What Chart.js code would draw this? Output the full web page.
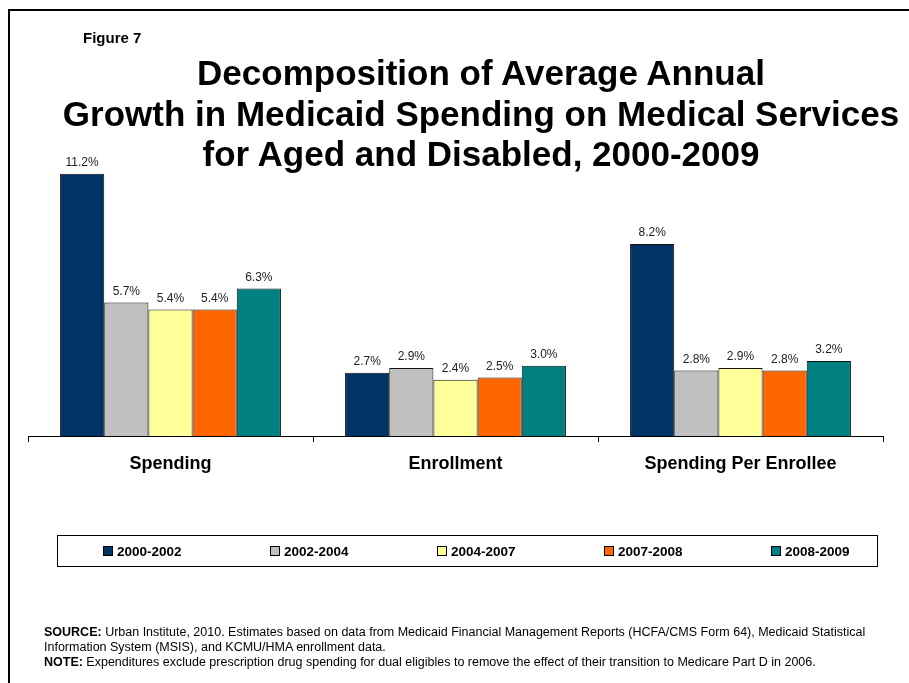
<!DOCTYPE html>
<html>
<head>
<meta charset="utf-8">
<script src="https://cdn.jsdelivr.net/npm/chart.js@4.4.1/dist/chart.umd.min.js"></script>
<style>
  html, body { margin: 0; padding: 0; background: #fff; }
  body { width: 909px; height: 683px; overflow: hidden; position: relative;
         font-family: Arial, "Liberation Sans", sans-serif; color: #000; }
  .frame { position: absolute; left: 8px; top: 9px; width: 1000px; height: 800px;
           border: 2px solid #000; box-sizing: border-box; }
  #grafico { position: absolute; left: 0; top: 0; }
  .figura { position: absolute; left: 83px; top: 29px; font-size: 15px; font-weight: bold; }
  .titulo { position: absolute; left: 1px; width: 960px; top: 53px; text-align: center;
            font-size: 35px; font-weight: bold; line-height: 40.5px; white-space: nowrap; }
  .legenda { position: absolute; left: 57px; top: 535px; width: 821px; height: 32px;
             border: 1px solid #000; box-sizing: border-box; display: flex; align-items: center;
             padding-left: 45px; white-space: nowrap; }
  .legenda .item { width: 167px; flex-shrink: 0; display: flex; align-items: center;
                   font-size: 13.5px; font-weight: bold; }
  .legenda .item:last-child { width: auto; }
  .legenda .caixa { width: 8px; height: 8px; border: 1px solid #000; margin-right: 4px; }
  .fonte { position: absolute; left: 44px; top: 625px; width: 865px; font-size: 12.5px; line-height: 15px;
           white-space: nowrap; }
</style>
</head>
<body>
<div class="frame"></div>
<canvas id="grafico" width="909" height="683"></canvas>
<div class="figura">Figure 7</div>
<div class="titulo">Decomposition of Average Annual<br>Growth in Medicaid Spending on Medical Services<br>for Aged and Disabled, 2000-2009</div>
<div class="legenda" id="legenda"></div>
<div class="fonte">
  <b>SOURCE:</b> Urban Institute, 2010. Estimates based on data from Medicaid Financial Management Reports (HCFA/CMS Form 64), Medicaid Statistical<br>
  Information System (MSIS), and KCMU/HMA enrollment data.<br>
  <b>NOTE:</b> Expenditures exclude prescription drug spending for dual eligibles to remove the effect of their transition to Medicare Part D in 2006.
</div>
<script>
// Categorias e periodos
const categorias = ['Spending', 'Enrollment', 'Spending Per Enrollee'];
const periodos = ['2000-2002', '2002-2004', '2004-2007', '2007-2008', '2008-2009'];

// Crescimento medio anual (%) por periodo, na ordem das categorias
const valores2000_2002 = [11.2, 2.7, 8.2];
const valores2002_2004 = [5.7, 2.9, 2.8];
const valores2004_2007 = [5.4, 2.4, 2.9];
const valores2007_2008 = [5.4, 2.5, 2.8];
const valores2008_2009 = [6.3, 3.0, 3.2];

const cores = ['#003366', '#C0C0C0', '#FFFF99', '#FF6600', '#008080'];
const series = [valores2000_2002, valores2002_2004, valores2004_2007, valores2007_2008, valores2008_2009];

const fonte = 'Arial, "Liberation Sans", sans-serif';

// Plugin simples para escrever o valor acima de cada barra
const rotulosBarras = {
  id: 'rotulosBarras',
  afterDatasetsDraw(chart) {
    const ctx = chart.ctx;
    ctx.save();
    ctx.font = '12px ' + fonte;
    ctx.fillStyle = '#222';
    ctx.textAlign = 'center';
    ctx.textBaseline = 'middle';
    chart.data.datasets.forEach((ds, i) => {
      chart.getDatasetMeta(i).data.forEach((barra, j) => {
        ctx.fillText(ds.data[j].toFixed(1) + '%', barra.x, barra.y - 11);
      });
    });
    ctx.restore();
  }
};

const grafico = new Chart(document.getElementById('grafico'), {
  type: 'bar',
  data: {
    labels: categorias,
    datasets: series.map((dados, i) => ({
      label: periodos[i],
      data: dados,
      backgroundColor: cores[i],
      borderColor: '#111',
      borderWidth: 1,
      categoryPercentage: 0.775,
      barPercentage: 1
    }))
  },
  options: {
    responsive: false,
    animation: false,
    devicePixelRatio: 1,
    layout: { padding: { left: 28, right: 26, top: 155, bottom: 207 } },
    plugins: {
      legend: { display: false },
      tooltip: { enabled: false },
      title: { display: false }
    },
    scales: {
      x: {
        grid: { drawOnChartArea: false, drawTicks: true, tickLength: 6, color: '#000', offset: true },
        border: { display: true, color: '#000', width: 1 },
        ticks: { color: '#000', padding: 11, font: { family: fonte, size: 18, weight: 'bold' } },
        afterFit(scale) { scale.height = 40; }
      },
      y: {
        display: false,
        min: 0,
        max: 12
      }
    }
  },
  plugins: [rotulosBarras]
});

// Legenda em HTML a partir dos datasets
const legenda = document.getElementById('legenda');
grafico.data.datasets.forEach((ds) => {
  const item = document.createElement('div');
  item.className = 'item';
  item.innerHTML = `<span class="caixa" style="background:${ds.backgroundColor}"></span>${ds.label}`;
  legenda.appendChild(item);
});
</script>
</body>
</html>
